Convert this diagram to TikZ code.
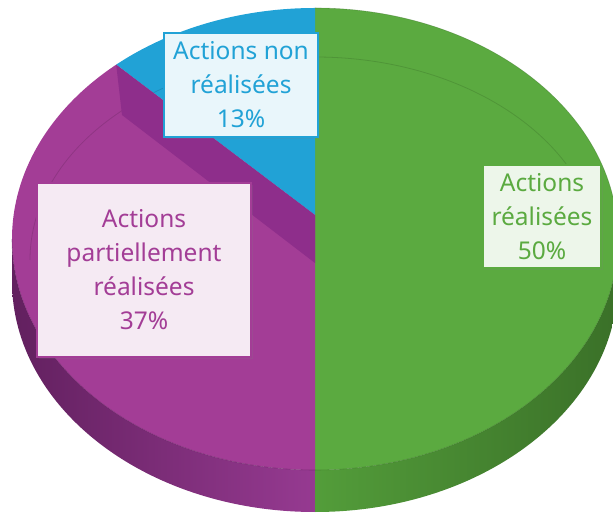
\documentclass[tikz,border=0pt]{standalone}
\usepackage{fontspec}
\setmainfont{Noto Sans}
\usepackage{xcolor}
\usetikzlibrary{shadows}
\definecolor{vert}{HTML}{5BAA40}
\definecolor{vertside}{HTML}{539D3A}
\definecolor{vertdark}{HTML}{3A7028}
\definecolor{violet}{HTML}{A33D96}
\definecolor{violetside}{HTML}{963A91}
\definecolor{violetband}{HTML}{8E2E8B}
\definecolor{violetdark}{HTML}{62205F}
\definecolor{bleu}{HTML}{21A2D6}
\newcommand{\lbl}{\fontsize{24.5}{34}\selectfont}
\tikzset{
  etiquette/.style={rectangle, align=center, inner sep=0pt, line width=1.2pt, font=\lbl,
    drop shadow={shadow xshift=2pt, shadow yshift=-2pt, opacity=0.18}},
  bevel/.style={black, opacity=0.12, line width=0.8pt}
}

\begin{document}
\begin{tikzpicture}[x=1pt,y=1pt]
\useasboundingbox (0,0) rectangle (613,514);
\coordinate (O) at (315,275);
\coordinate (haut) at (315,506);
\coordinate (bas) at (315,44);
\coordinate (pointe) at (315,299);
\coordinate (coin) at (116.2,449.3);
\coordinate (coinbas) at (122,399);
\coordinate (pointebas) at (315,251);
% flanc
\shade[left color=violetdark, middle color=violetside, right color=violetside] (12,275) arc[start angle=180, end angle=270, x radius=303, y radius=231] -- (315,2) arc[start angle=270, end angle=180, x radius=303, y radius=231] -- cycle;
\shade[left color=vertside, middle color=vertside, right color=vertdark] (bas) arc[start angle=270, end angle=360, x radius=303, y radius=231] -- (618,233) arc[start angle=0, end angle=-90, x radius=303, y radius=231] -- cycle;
% dessus
\fill[vert] (haut) arc[start angle=90, end angle=-90, x radius=303, y radius=231] -- cycle;
\fill[violet] (bas) arc[start angle=270, end angle=131, x radius=303, y radius=231] -- (pointe) -- cycle;
\fill[bleu] (haut) arc[start angle=90, end angle=131, x radius=303, y radius=231] -- (pointe) -- cycle;
\draw[bevel] (600,254) arc[start angle=0, end angle=180, x radius=285, y radius=203];
\fill[violetband] (coin) -- (pointe) -- (pointebas) -- (coinbas) -- cycle;
\draw[violetdark, opacity=0.5, line width=0.6pt] (12,275) arc[start angle=180, end angle=270, x radius=303, y radius=231];
\draw[vertdark, opacity=0.5, line width=0.6pt] (bas) arc[start angle=270, end angle=360, x radius=303, y radius=231];
\draw[vertdark, opacity=0.4, line width=0.6pt] (haut) arc[start angle=90, end angle=0, x radius=303, y radius=231];
% etiquettes
\node[etiquette, draw=bleu, fill=bleu!10, text=bleu, minimum width=154, minimum height=104] (nonrea) at (241,429) {Actions non\\réalisées\\13\%};
\node[etiquette, draw=violet, fill=violet!11, text=violet, minimum width=214, minimum height=174] (partiel) at (144,244) {Actions\\partiellement\\réalisées\\37\%};
\node[etiquette, draw=vert, fill=vert!11, text=vert, minimum width=118, minimum height=103] (rea) at (542,297.5) {Actions\\réalisées\\50\%};
\end{tikzpicture}
\end{document}
